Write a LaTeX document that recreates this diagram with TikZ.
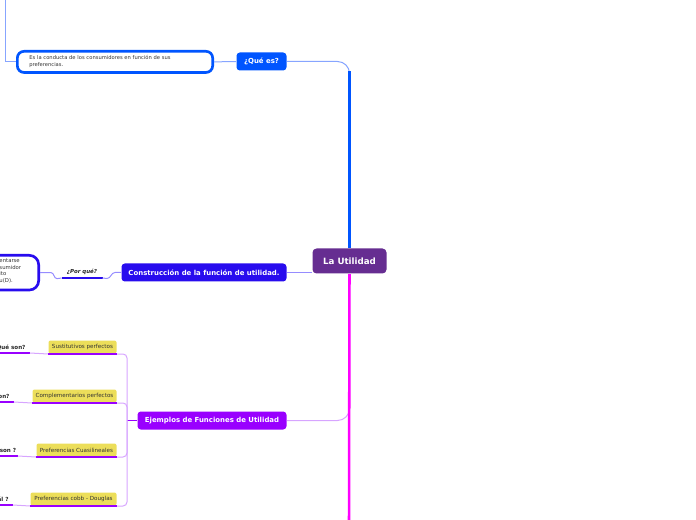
\documentclass[tikz,border=0pt]{standalone}
\usepackage{fontspec}
\setmainfont{DejaVu Sans}

\definecolor{utilpurple}{RGB}{102,45,145}
\definecolor{quebl}{RGB}{0,85,255}
\definecolor{quelight}{RGB}{135,165,255}
\definecolor{constr}{RGB}{40,12,238}
\definecolor{constrlight}{RGB}{150,140,255}
\definecolor{ejem}{RGB}{153,0,255}
\definecolor{ejemlight}{RGB}{215,165,255}
\definecolor{trunkpink}{RGB}{255,0,255}
\definecolor{yel}{RGB}{236,222,90}
\definecolor{txtgrey}{RGB}{51,51,51}

\tikzset{every picture/.style={line width=0.75pt}}
\tikzset{
  topic/.style={anchor=north west, rounded corners=2.5pt, inner sep=0pt, text=white,
    font=\fontsize{5.2}{6}\selectfont\bfseries, minimum height=13.5pt},
  yelnode/.style={anchor=north east, fill=yel, rounded corners=1.5pt, inner sep=0pt,
    text=txtgrey, font=\fontsize{4.2}{5}\selectfont, minimum height=9.75pt},
  asklabel/.style={anchor=south east, inner xsep=3pt, inner ysep=1.5pt, text=black!85,
    font=\fontsize{4.2}{5}\selectfont\bfseries},
  underbar/.style={line width=2pt, ejem},
}

\begin{document}
\begin{tikzpicture}[x=0.75pt,y=0.75pt,yscale=-1,xscale=1]
\useasboundingbox (0,0) rectangle (696,520);

% Central topic
\node[topic, fill=utilpurple, rounded corners=3pt, minimum width=55.5pt, minimum height=18.75pt,
  font=\fontsize{6.5}{8}\selectfont\bfseries] (util) at (312,248) {La Utilidad};

% ¿Qué es?
\node[topic, fill=quebl, minimum width=37.5pt] (que) at (236,52) {¿Qué es?};
\node[anchor=north west, draw=quebl, line width=2pt, fill=white, rounded corners=5pt,
  text width=128.5pt, inner xsep=9pt, minimum height=14.5pt, align=left, text=txtgrey,
  font=\fontsize{3.9}{5.25}\selectfont] (quebox) at (16,50)
  {Es la conducta de los consumidores en función de sus\\preferencias.};
\coordinate (topfeed) at (5,-2);
\draw[quelight] (topfeed) |- (quebox.west);
\draw[quelight] (quebox.east) -- (que.west);
\draw[quelight, rounded corners=9pt] (que.east) -| (util.north);
\draw[quebl, line width=1.9pt] (util.north) -- (util.north |- que.south);

% Construcción
\node[topic, fill=constr, minimum width=123.75pt] (constr) at (121,263) {Construcción de la función de utilidad.};
\draw[constrlight] (constr.east) -- (constr.east -| util.west);
\node[asklabel, anchor=south, inner ysep=2pt, minimum width=30pt,
  font=\fontsize{4.1}{5}\selectfont\bfseries\itshape] (porque) at (82,278) {¿Por qué?};
\draw[line width=2pt, constr] (porque.south west) -- (porque.south east);
\node[anchor=north east, draw=constr, line width=2pt, fill=white, rounded corners=7pt,
  minimum width=60pt, minimum height=26pt] (porqbox) at (40,254) {};
\node[anchor=north west, inner sep=0pt, align=left, text=txtgrey,
  font=\fontsize{4}{4.9}\selectfont] (porqtext) at (-1,258.5) {entarse\\sumidor\\ito\\u(D).};
\draw[constrlight] (constr.west) -- ++(-6,0) to[out=180,in=0] ++(-8,6) -- (porque.south east);
\draw[constrlight] (porqbox.east) -- ++(11,0) to[out=0,in=180] ++(6,6) -- (porque.south west);

% Ejemplos
\node[topic, fill=ejem, minimum width=111.75pt] (ejem) at (137,411) {Ejemplos de Funciones de Utilidad};
\coordinate (pinkend) at (349,522);
\draw[ejemlight, rounded corners=9pt] (ejem.east) -| (util.south);
\draw[trunkpink, line width=1.9pt] (util.south) -- (pinkend);
\draw[ejem] (ejem.west) -- ++(-10,0) coordinate (bus);

\node[yelnode, minimum width=51pt] (sust) at (117,340) {Sustitutivos perfectos};
\node[yelnode, minimum width=63pt] (compl) at (117,389) {\raisebox{0.5pt}{Complem}entarios perfectos};
\node[yelnode, minimum width=60pt] (cuasi) at (117,443) {Preferencias Cuasilineales};
\node[yelnode, minimum width=64.5pt] (cobb) at (117,492) {\raisebox{0.5pt}{Preferenci}as cobb - Douglas};
\foreach \n in {sust,compl,cuasi,cobb} {
  \draw[underbar] (\n.south west) -- (\n.south east);
  \draw[ejemlight, rounded corners=3pt] (\n.south east) -| (bus);
}

\node[asklabel] (sustq) at (30,353) {¿Qué son?};
\node[asklabel] (complq) at (14,402) {¿Qué son?};
\node[asklabel, inner xsep=1pt] (cuasiq) at (18,456) {¿Cómo son ?};
\node[asklabel] (cobbq) at (13,505) {¿Cuál ?};
\foreach \q/\n in {sustq/sust,complq/compl,cuasiq/cuasi,cobbq/cobb} {
  \draw[underbar] (\q.south west) -- (\q.south east);
  \draw[ejemlight] (\q.south east) -- (\n.south west);
}

\end{tikzpicture}
\end{document}
